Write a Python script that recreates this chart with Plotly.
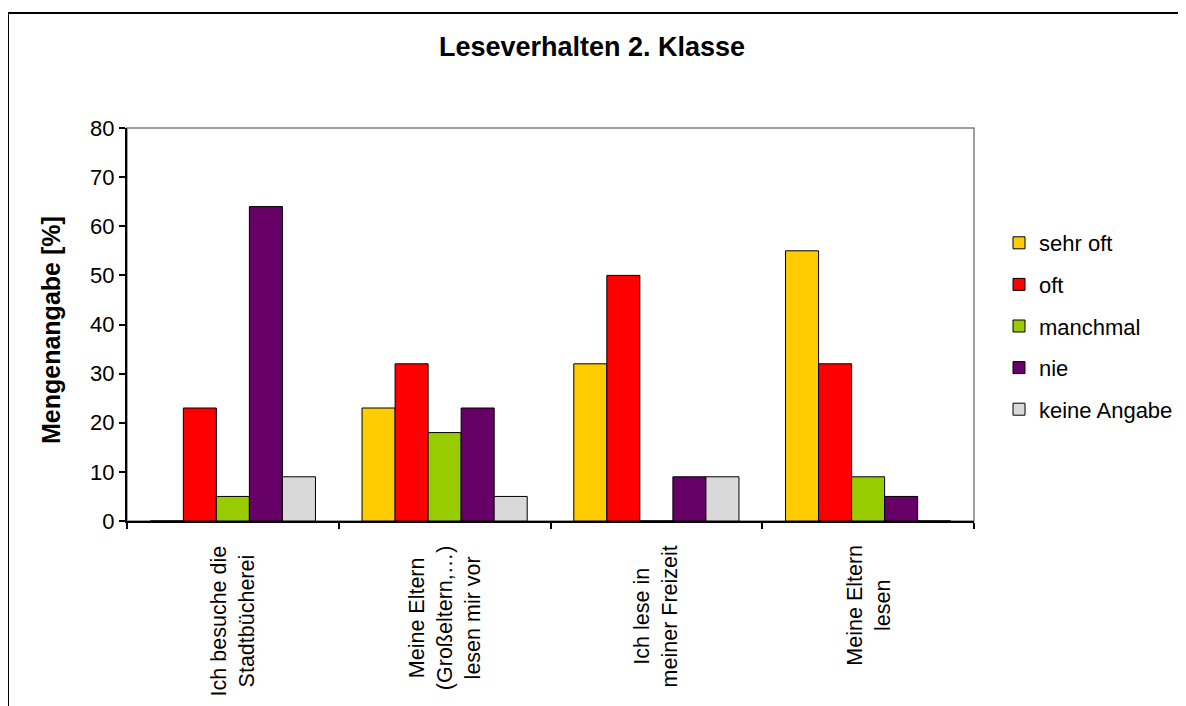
import plotly.graph_objects as go

categories = ["Ich besuche die<br>Stadtbücherei",
              "Meine Eltern<br>(Großeltern,…)<br>lesen mir vor",
              "Ich lese in<br>meiner Freizeit",
              "Meine Eltern<br>lesen"]
cat_keys = ["c1", "c2", "c3", "c4"]

series_names = ["sehr oft", "oft", "manchmal", "nie", "keine Angabe"]
sehr_oft = [0, 23, 32, 55]
oft = [23, 32, 50, 32]
manchmal = [5, 18, 0, 9]
nie = [64, 23, 9, 5]
keine_angabe = [9, 5, 9, 0]
series_values = [sehr_oft, oft, manchmal, nie, keine_angabe]
colors = ["#FFCC00", "#FF0000", "#99CC00", "#660066", "#D9D9D9"]

y_ticks = [0, 10, 20, 30, 40, 50, 60, 70, 80]

FONT = "Liberation Sans, Arial, sans-serif"

fig = go.Figure()
for name, vals, col in zip(series_names, series_values, colors):
    fig.add_trace(go.Bar(
        x=cat_keys, y=vals, name=name, legendgroup=name,
        marker=dict(color=col, line=dict(color="black", width=1)),
    ))

# page body has an 8px margin, so the figure is drawn 8px smaller and shifted
OFF = 8
W, H = 1186 - OFF, 706 - OFF
L, R, T, B = 127 - OFF, 974 - OFF, 128 - OFF, 521 - OFF
pw, ph = R - L, B - T

def px_x(x):  # reference page x -> paper x
    return (x - OFF - L) / pw

def px_y(y):  # reference page y -> paper y
    return (B - (y - OFF)) / ph

annotations = []
for key, lab in zip(cat_keys, categories):
    annotations.append(dict(
        x=key, xref="x", y=px_y(543), yref="paper",
        text=lab, textangle=-90, showarrow=False,
        xanchor="center", yanchor="top", align="center",
        font=dict(family=FONT, size=21.5, color="black"),
    ))
annotations.append(dict(
    x=px_x(51), xref="paper", y=px_y(330), yref="paper",
    text="<b>Mengenangabe [%]</b>", textangle=-90, showarrow=False,
    xanchor="center", yanchor="middle",
    font=dict(family=FONT, size=25, color="black"),
))

shapes = [
    dict(type="rect", xref="paper", yref="paper", x0=0, y0=0, x1=1, y1=1,
         line=dict(color="#808080", width=1.5), layer="below"),
    dict(type="rect", xref="paper", yref="paper",
         x0=px_x(8), y0=px_y(730), x1=px_x(1210), y1=px_y(13),
         line=dict(color="black", width=2), layer="below"),
]

fig.update_layout(
    width=W, height=H,
    margin=dict(l=L, r=W - R, t=T, b=H - B, autoexpand=False),
    paper_bgcolor="white", plot_bgcolor="white",
    font=dict(family=FONT, color="black"),
    title=dict(text="<b>Leseverhalten 2. Klasse</b>",
               font=dict(family=FONT, size=27, color="black"),
               x=(592 - OFF) / W, xref="container", xanchor="center",
               y=1 - (47 - OFF) / H, yref="container", yanchor="middle"),
    barmode="group", bargap=0.22, bargroupgap=0,
    showlegend=True,
    legend=dict(x=px_x(999), xanchor="left", y=px_y(222), yanchor="top",
                font=dict(family=FONT, size=22, color="black"),
                tracegroupgap=10, traceorder="grouped",
                bgcolor="rgba(0,0,0,0)"),
    xaxis=dict(type="category", categoryorder="array", categoryarray=cat_keys,
               showticklabels=False, ticks="outside", ticklen=6,
               tickcolor="black", tickwidth=1.5, tickson="boundaries",
               showline=True, linecolor="black", linewidth=2,
               showgrid=False, zeroline=False),
    yaxis=dict(range=[0, 80], tickvals=y_ticks, ticks="outside", ticklen=6,
               tickcolor="black", tickwidth=1.5,
               tickfont=dict(family=FONT, size=22, color="black"),
               showline=True, linecolor="black", linewidth=2,
               showgrid=False, zeroline=False),
    annotations=annotations,
    shapes=shapes,
)

fig.write_html("out.html")
